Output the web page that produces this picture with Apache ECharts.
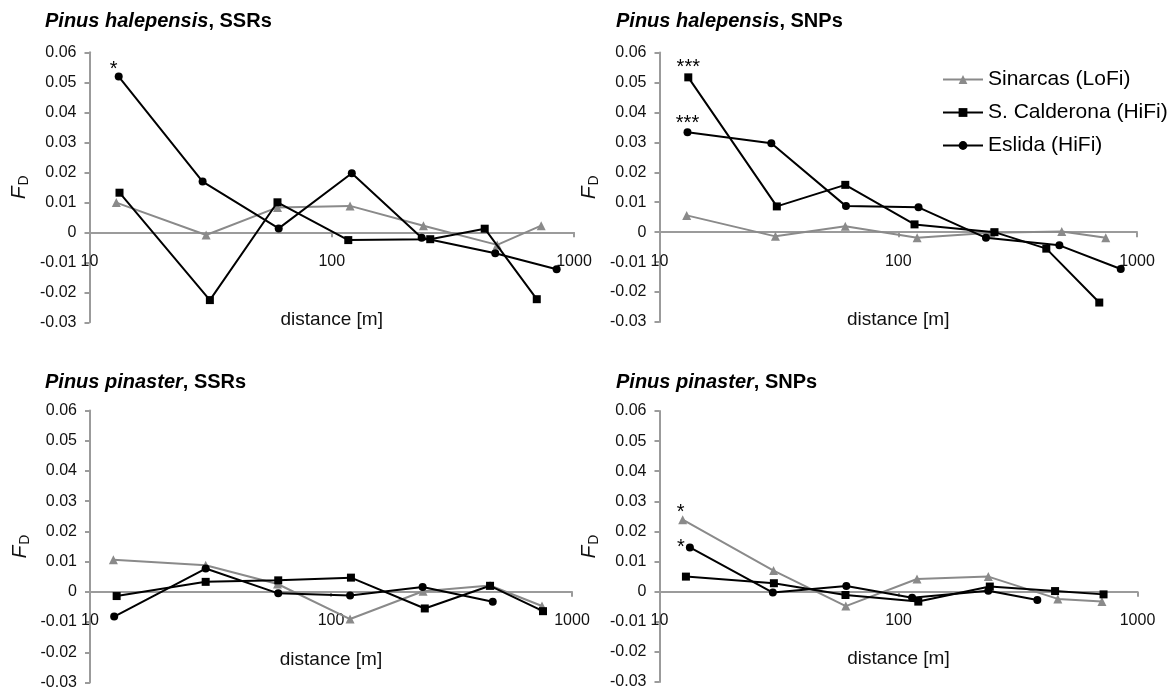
<!DOCTYPE html>
<html>
<head>
<meta charset="utf-8">
<script src="https://cdn.jsdelivr.net/npm/echarts@6/dist/echarts.min.js"></script>
<style>
  html, body { margin: 0; padding: 0; background: #fff; }
  #chart { width: 1175px; height: 693px; }
</style>
</head>
<body>
<div id="chart"></div>
<script>
// Population names (legend order)
const seriesNames = ['Sinarcas (LoFi)', 'S. Calderona (HiFi)', 'Eslida (HiFi)'];

// Panel titles: [species (italic), marker type]
const panelTitles = [
  ['Pinus halepensis', ', SSRs'],
  ['Pinus halepensis', ', SNPs'],
  ['Pinus pinaster', ', SSRs'],
  ['Pinus pinaster', ', SNPs']
];

// Axis ranges / ticks
const xTicks = [10, 100, 1000];
const yMin = -0.03, yMax = 0.06, yStep = 0.01;

// Pinus halepensis, SSRs — mean distance of class [m] and F_D
const halSsrSinarcasDist = [12.9, 30.3, 59.7, 119, 239, 482, 732];
const halSsrSinarcasFd   = [0.0099, -0.0009, 0.0083, 0.0088, 0.0022, -0.0042, 0.0022];
const halSsrCalderonaDist = [13.3, 31.4, 59.7, 117, 255, 428, 702];
const halSsrCalderonaFd   = [0.0132, -0.0226, 0.0100, -0.0026, -0.0023, 0.0012, -0.0223];
const halSsrEslidaDist = [13.2, 29.3, 60.4, 121, 235, 473, 848];
const halSsrEslidaFd   = [0.0519, 0.0169, 0.0013, 0.0197, -0.0018, -0.0070, -0.0123];

// Pinus halepensis, SNPs
const halSnpSinarcasDist = [13.0, 30.6, 60, 120, 244, 484, 740];
const halSnpSinarcasFd   = [0.0056, -0.0014, 0.0020, -0.0019, -0.0002, 0.0002, -0.0019];
const halSnpCalderonaDist = [13.2, 31, 60, 117, 253, 417, 695];
const halSnpCalderonaFd   = [0.0517, 0.0086, 0.0158, 0.0026, 0.0000, -0.0055, -0.0235];
const halSnpEslidaDist = [13.1, 29.4, 60.4, 121.6, 233, 473, 855];
const halSnpEslidaFd   = [0.0334, 0.0297, 0.0087, 0.0083, -0.0019, -0.0044, -0.0123];

// Pinus pinaster, SSRs
const pinSsrSinarcasDist = [12.5, 30.2, 60, 120, 241, 457, 751];
const pinSsrSinarcasFd   = [0.0106, 0.0088, 0.0026, -0.0090, 0.0002, 0.0021, -0.0047];
const pinSsrCalderonaDist = [12.9, 30.2, 60.4, 121, 245, 457, 758];
const pinSsrCalderonaFd   = [-0.0014, 0.0033, 0.0038, 0.0047, -0.0055, 0.0020, -0.0064];
const pinSsrEslidaDist = [12.6, 30.2, 60.4, 120, 240, 469];
const pinSsrEslidaFd   = [-0.0082, 0.0077, -0.0005, -0.0012, 0.0016, -0.0033];

// Pinus pinaster, SNPs
const pinSnpSinarcasDist = [12.5, 30.0, 60.2, 119.5, 237.6, 464, 710];
const pinSnpSinarcasFd   = [0.0239, 0.0070, -0.0048, 0.0042, 0.0050, -0.0024, -0.0033];
const pinSnpCalderonaDist = [12.9, 30.1, 60, 121, 241, 452, 721];
const pinSnpCalderonaFd   = [0.0050, 0.0028, -0.0011, -0.0033, 0.0017, 0.0002, -0.0009];
const pinSnpEslidaDist = [13.4, 29.8, 60.5, 114, 237.6, 381];
const pinSnpEslidaFd   = [0.0147, -0.0003, 0.0019, -0.0020, 0.0003, -0.0028];

// Significance marks: [series index, point index, mark]
const halSsrSig = [[2, 0, '*']];
const halSnpSig = [[1, 0, '***'], [2, 0, '***']];
const pinSsrSig = [];
const pinSnpSig = [[0, 0, '*'], [2, 0, '*']];

const panels = [
  { dist: [halSsrSinarcasDist, halSsrCalderonaDist, halSsrEslidaDist],
    fd: [halSsrSinarcasFd, halSsrCalderonaFd, halSsrEslidaFd], sig: halSsrSig },
  { dist: [halSnpSinarcasDist, halSnpCalderonaDist, halSnpEslidaDist],
    fd: [halSnpSinarcasFd, halSnpCalderonaFd, halSnpEslidaFd], sig: halSnpSig },
  { dist: [pinSsrSinarcasDist, pinSsrCalderonaDist, pinSsrEslidaDist],
    fd: [pinSsrSinarcasFd, pinSsrCalderonaFd, pinSsrEslidaFd], sig: pinSsrSig },
  { dist: [pinSnpSinarcasDist, pinSnpCalderonaDist, pinSnpEslidaDist],
    fd: [pinSnpSinarcasFd, pinSnpCalderonaFd, pinSnpEslidaFd], sig: pinSnpSig }
];

// ---- layout & style ----
const FONT = '"Liberation Sans", Arial, sans-serif';
const AXIS_GREY = '#9b9b9b';
const LO_GREY = '#8a8a8a';
const seriesColors = [LO_GREY, '#000000', '#000000'];
const seriesSymbols = ['triangle', 'rect', 'circle'];
const seriesSymbolSizes = [9, 8, 8];

const grids = [
  { left: 89.5, top: 52.3, width: 484.5, height: 270 },
  { left: 659.5, top: 52.5, width: 477.5, height: 269.5 },
  { left: 90, top: 410.5, width: 482, height: 272 },
  { left: 659.5, top: 411, width: 478, height: 271 }
];
const titlePos = [[45, 11], [616, 11], [45, 372], [616, 372]];
const xNameGap = [78, 78, 58, 58];

// the distance axis crosses the F_D axis at F_D = 0: shift it up from the grid bottom
const zeroShift = g => -g.height * (0 - yMin) / (yMax - yMin);

// label offsets for significance marks, keyed "panel-series"
const sigOffset = {
  '0-2': [-5, -7],
  '1-1': [0, -10],
  '1-2': [0, -9],
  '3-0': [-2, -7],
  '3-2': [-9, 0]
};

const option = {
  backgroundColor: '#ffffff',
  animation: false,
  textStyle: { fontFamily: FONT },
  title: panelTitles.map((t, i) => ({
    left: titlePos[i][0],
    top: titlePos[i][1],
    padding: 0,
    text: '{i|' + t[0] + '}{n|' + t[1] + '}',
    textStyle: {
      rich: {
        i: { fontStyle: 'italic', fontWeight: 'bold', fontSize: 20, fontFamily: FONT, color: '#000' },
        n: { fontWeight: 'bold', fontSize: 20, fontFamily: FONT, color: '#000' }
      }
    }
  })),
  legend: {
    orient: 'vertical',
    left: 937,
    top: 64,
    itemWidth: 40,
    itemHeight: 11,
    itemGap: 12,
    data: seriesNames,
    textStyle: { fontSize: 21, color: '#000', fontFamily: FONT }
  },
  grid: grids,
  xAxis: grids.map((g, i) => ({
    gridIndex: i,
    type: 'log',
    logBase: 10,
    min: xTicks[0],
    max: xTicks[xTicks.length - 1],
    position: 'bottom',
    offset: zeroShift(g),
    axisLine: { show: true, onZero: false, lineStyle: { color: AXIS_GREY, width: 2 } },
    axisTick: { show: true, length: 5, lineStyle: { color: AXIS_GREY, width: 2 } },
    axisLabel: {
      margin: 21, fontSize: 16, color: '#111', fontFamily: FONT,
      showMinLabel: true, showMaxLabel: true,
      formatter: v => String(Math.round(v))
    },
    splitLine: { show: false },
    name: 'distance [m]',
    nameLocation: 'middle',
    nameGap: xNameGap[i],
    nameTextStyle: { fontSize: 19, color: '#111', fontFamily: FONT }
  })),
  yAxis: grids.map((g, i) => ({
    gridIndex: i,
    type: 'value',
    min: yMin,
    max: yMax,
    interval: yStep,
    axisLine: { show: true, onZero: false, lineStyle: { color: AXIS_GREY, width: 2 } },
    axisTick: { show: true, length: 5, lineStyle: { color: AXIS_GREY, width: 2 } },
    axisLabel: {
      margin: 13, fontSize: 16, color: '#111', fontFamily: FONT,
      formatter: v => (Math.abs(v) < 1e-9 ? '0' : v.toFixed(2))
    },
    splitLine: { show: false },
    name: '{f|F}{d|D}',
    nameLocation: 'middle',
    nameRotate: 90,
    nameGap: 58,
    nameTextStyle: {
      rich: {
        f: { fontStyle: 'italic', fontSize: 21, color: '#111', fontFamily: FONT },
        d: { fontSize: 14, color: '#111', fontFamily: FONT, padding: [10, 0, 0, 1] }
      }
    }
  })),
  series: []
};

panels.forEach((p, pi) => {
  for (let s = 0; s < 3; s++) {
    const marks = {};
    p.sig.filter(m => m[0] === s).forEach(m => { marks[m[1]] = m[2]; });
    const data = p.dist[s].map((d, k) => {
      const item = { value: [d, p.fd[s][k]] };
      if (marks[k]) {
        item.label = {
          show: true,
          position: 'inside',
          offset: sigOffset[pi + '-' + s] || [0, -6],
          formatter: marks[k],
          fontSize: 20,
          color: '#000',
          fontFamily: FONT
        };
      }
      return item;
    });
    option.series.push({
      name: seriesNames[s],
      type: 'line',
      xAxisIndex: pi,
      yAxisIndex: pi,
      data: data,
      symbol: seriesSymbols[s],
      symbolSize: seriesSymbolSizes[s],
      showSymbol: true,
      color: seriesColors[s],
      lineStyle: { color: seriesColors[s], width: 2 },
      itemStyle: { color: seriesColors[s] },
      label: { show: false },
      emphasis: { disabled: true },
      z: 2 + s
    });
  }
});

const chart = echarts.init(document.getElementById('chart'), null, { renderer: 'canvas' });
chart.setOption(option);
</script>
</body>
</html>
